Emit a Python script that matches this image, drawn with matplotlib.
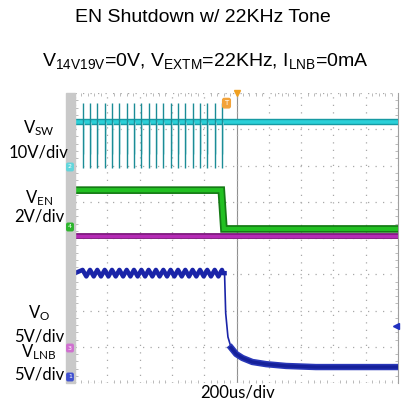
import numpy as np
import matplotlib
matplotlib.use('Agg')
import matplotlib.pyplot as plt
from matplotlib.patches import Rectangle

# time axis in us (200us/div, trigger at 0), vertical axis in divisions (0 = bottom)
tone_t = [-953, -907, -862, -816, -771, -725, -680, -635, -589, -544,
          -499, -453, -408, -362, -317, -272, -226, -181, -135, -90]

vsw_level = 7.21
vsw_low = 5.93
vsw_high = 7.72

ven_t = [-1000, -94, -78, 1000]
ven_y = [5.32, 5.32, 4.25, 4.25]

vlnb_t = [-1000, 1000]
vlnb_y = [4.06, 4.06]

vo_level = 3.03
vo_ripple = 0.09
vo_t = [-84, -74, -67, -53, -33, -2, 37, 98, 184, 307, 491, 1000]
vo_y = [3.03, 3.03, 1.93, 1.27, 0.97, 0.80, 0.69, 0.58, 0.52, 0.47, 0.44, 0.44]

labels = ['$\\mathregular{V_{SW}}$', '10V/div', '$\\mathregular{V_{EN}}$', '2V/div',
          '$\\mathregular{V_{O}}$', '5V/div', '$\\mathregular{V_{LNB}}$', '5V/div']
label_y = [128, 152, 198, 217, 313, 336, 352, 374]

W, H = 405, 403
fig = plt.figure(figsize=(W / 100, H / 100), dpi=100)
fig.patch.set_facecolor('white')

L, R, T, B = 75, 398, 93, 383
ax = fig.add_axes([L / W, 1 - B / H, (R - L) / W, (B - T) / H])
ax.set_xlim(-1000, 1000)
ax.set_ylim(0, 8)

# graticule
ax.set_xticks(np.arange(-1000, 1001, 200))
ax.set_yticks(np.arange(0, 9, 1))
ax.set_xticks(np.arange(-1000, 1001, 40), minor=True)
ax.set_yticks(np.arange(0, 8.01, 0.2), minor=True)
ax.grid(True, which='major', color='#a8a8a8', linestyle=(0, (1, 5)), linewidth=0.9)
ax.tick_params(which='both', direction='in', top=True, bottom=True, left=True, right=True,
               labelbottom=False, labelleft=False, color='#b0b0b0')
ax.tick_params(which='major', length=0)
ax.tick_params(which='minor', length=2.5, width=0.6)
ax.axvline(0, color='#909090', lw=0.8, zorder=1)
ax.axhline(4, color='#b0b0b0', lw=0.6, zorder=1)
for s in ['top', 'bottom', 'left']:
    ax.spines[s].set_visible(False)
ax.spines['right'].set_color('#a0a0a0')
ax.spines['right'].set_linewidth(0.8)

# VSW: cyan baseline + tone spikes
ax.plot([-1000, 1000], [vsw_level, vsw_level], color='#179aa3', lw=4.6, zorder=3)
ax.plot([-1000, 1000], [vsw_level, vsw_level], color='#2ad0d8', lw=2.6, zorder=3)
ax.vlines(tone_t, vsw_low, vsw_high, color='#1b8c96', lw=1.0, zorder=4)
ax.vlines(np.array(tone_t) + 6, vsw_low + 0.4, vsw_level, color='#b5e3e6', lw=0.5, zorder=3)

# VEN: green
ax.plot(ven_t, ven_y, color='#157a15', lw=5.5, zorder=3, solid_joinstyle='miter')
ax.plot(ven_t, ven_y, color='#22c022', lw=3.0, zorder=3, solid_joinstyle='miter')

# VLNB: magenta
ax.plot(vlnb_t, vlnb_y, color='#7d1a7d', lw=4.2, zorder=3)
ax.plot(vlnb_t, vlnb_y, color='#b52bb5', lw=2.4, zorder=3)

# VO: blue, ripple following the tone then decay
tt = np.array(tone_t)
rip_t = np.concatenate([[-1000], np.ravel(np.column_stack([tt, tt + 23]))])
rip_y = np.concatenate([[vo_level], np.tile([vo_level + vo_ripple, vo_level - vo_ripple], len(tt))])
keep = rip_t < vo_t[0]
ax.plot(np.concatenate([rip_t[keep], vo_t[:2]]), np.concatenate([rip_y[keep], vo_y[:2]]),
        color='#1a24a8', lw=3.2, zorder=3)
ax.plot(vo_t[1:], vo_y[1:], color='#1a24a8', lw=1.2, zorder=3)
ax.plot(vo_t[4:], vo_y[4:], color='#2a38b8', lw=4.6, zorder=3)
ax.plot(vo_t[4:], vo_y[4:], color='#15209a', lw=2.4, zorder=3)

# marker on the right edge and trigger markers
ax.plot([990], [1.57], marker='<', color='#2030c0', ms=4, clip_on=False, zorder=5)
ax.plot([0], [8.0], marker='v', color='#f0a020', ms=5, clip_on=False, zorder=5)
ax.text(-62, 7.72, 'T', color='white', fontsize=5, ha='center', va='center', zorder=6,
        bbox=dict(boxstyle='round,pad=0.25', fc='#f2a33a', ec='#f2a33a'))

# gray strip with channel markers
fig.patches.append(Rectangle((66 / W, 1 - B / H), 9 / W, (B - T) / H,
                             transform=fig.transFigure, color='#c9c9c9', zorder=0))
for y, c, n in [(167, '#62d6dc', '2'), (227, '#2cb52c', '4'), (348, '#d070d0', '3'), (377, '#4050d0', '1')]:
    fig.text(70 / W, 1 - y / H, n, color='white', fontsize=4.5, ha='center', va='center',
             bbox=dict(boxstyle='round,pad=0.2', fc=c, ec=c))

# texts
fig.text(203 / W, 1 - 18 / H, 'EN Shutdown w/ 22KHz Tone', family='Liberation Sans',
         fontsize=14, ha='center', va='center')
fig.text(205 / W, 1 - 61 / H,
         '$\\mathregular{V_{14V19V}}$=0V, $\\mathregular{V_{EXTM}}$=22KHz, $\\mathregular{I_{LNB}}$=0mA',
         family='Liberation Sans', fontsize=14, ha='center', va='center')
for s, y in zip(labels, label_y):
    fig.text(39 / W, 1 - y / H, s, family='Lato', fontsize=12, ha='center', va='center')
fig.text(238 / W, 1 - 392 / H, '200us/div', family='Lato', fontsize=12, ha='center', va='center')

fig.savefig('out.png', dpi=100)
